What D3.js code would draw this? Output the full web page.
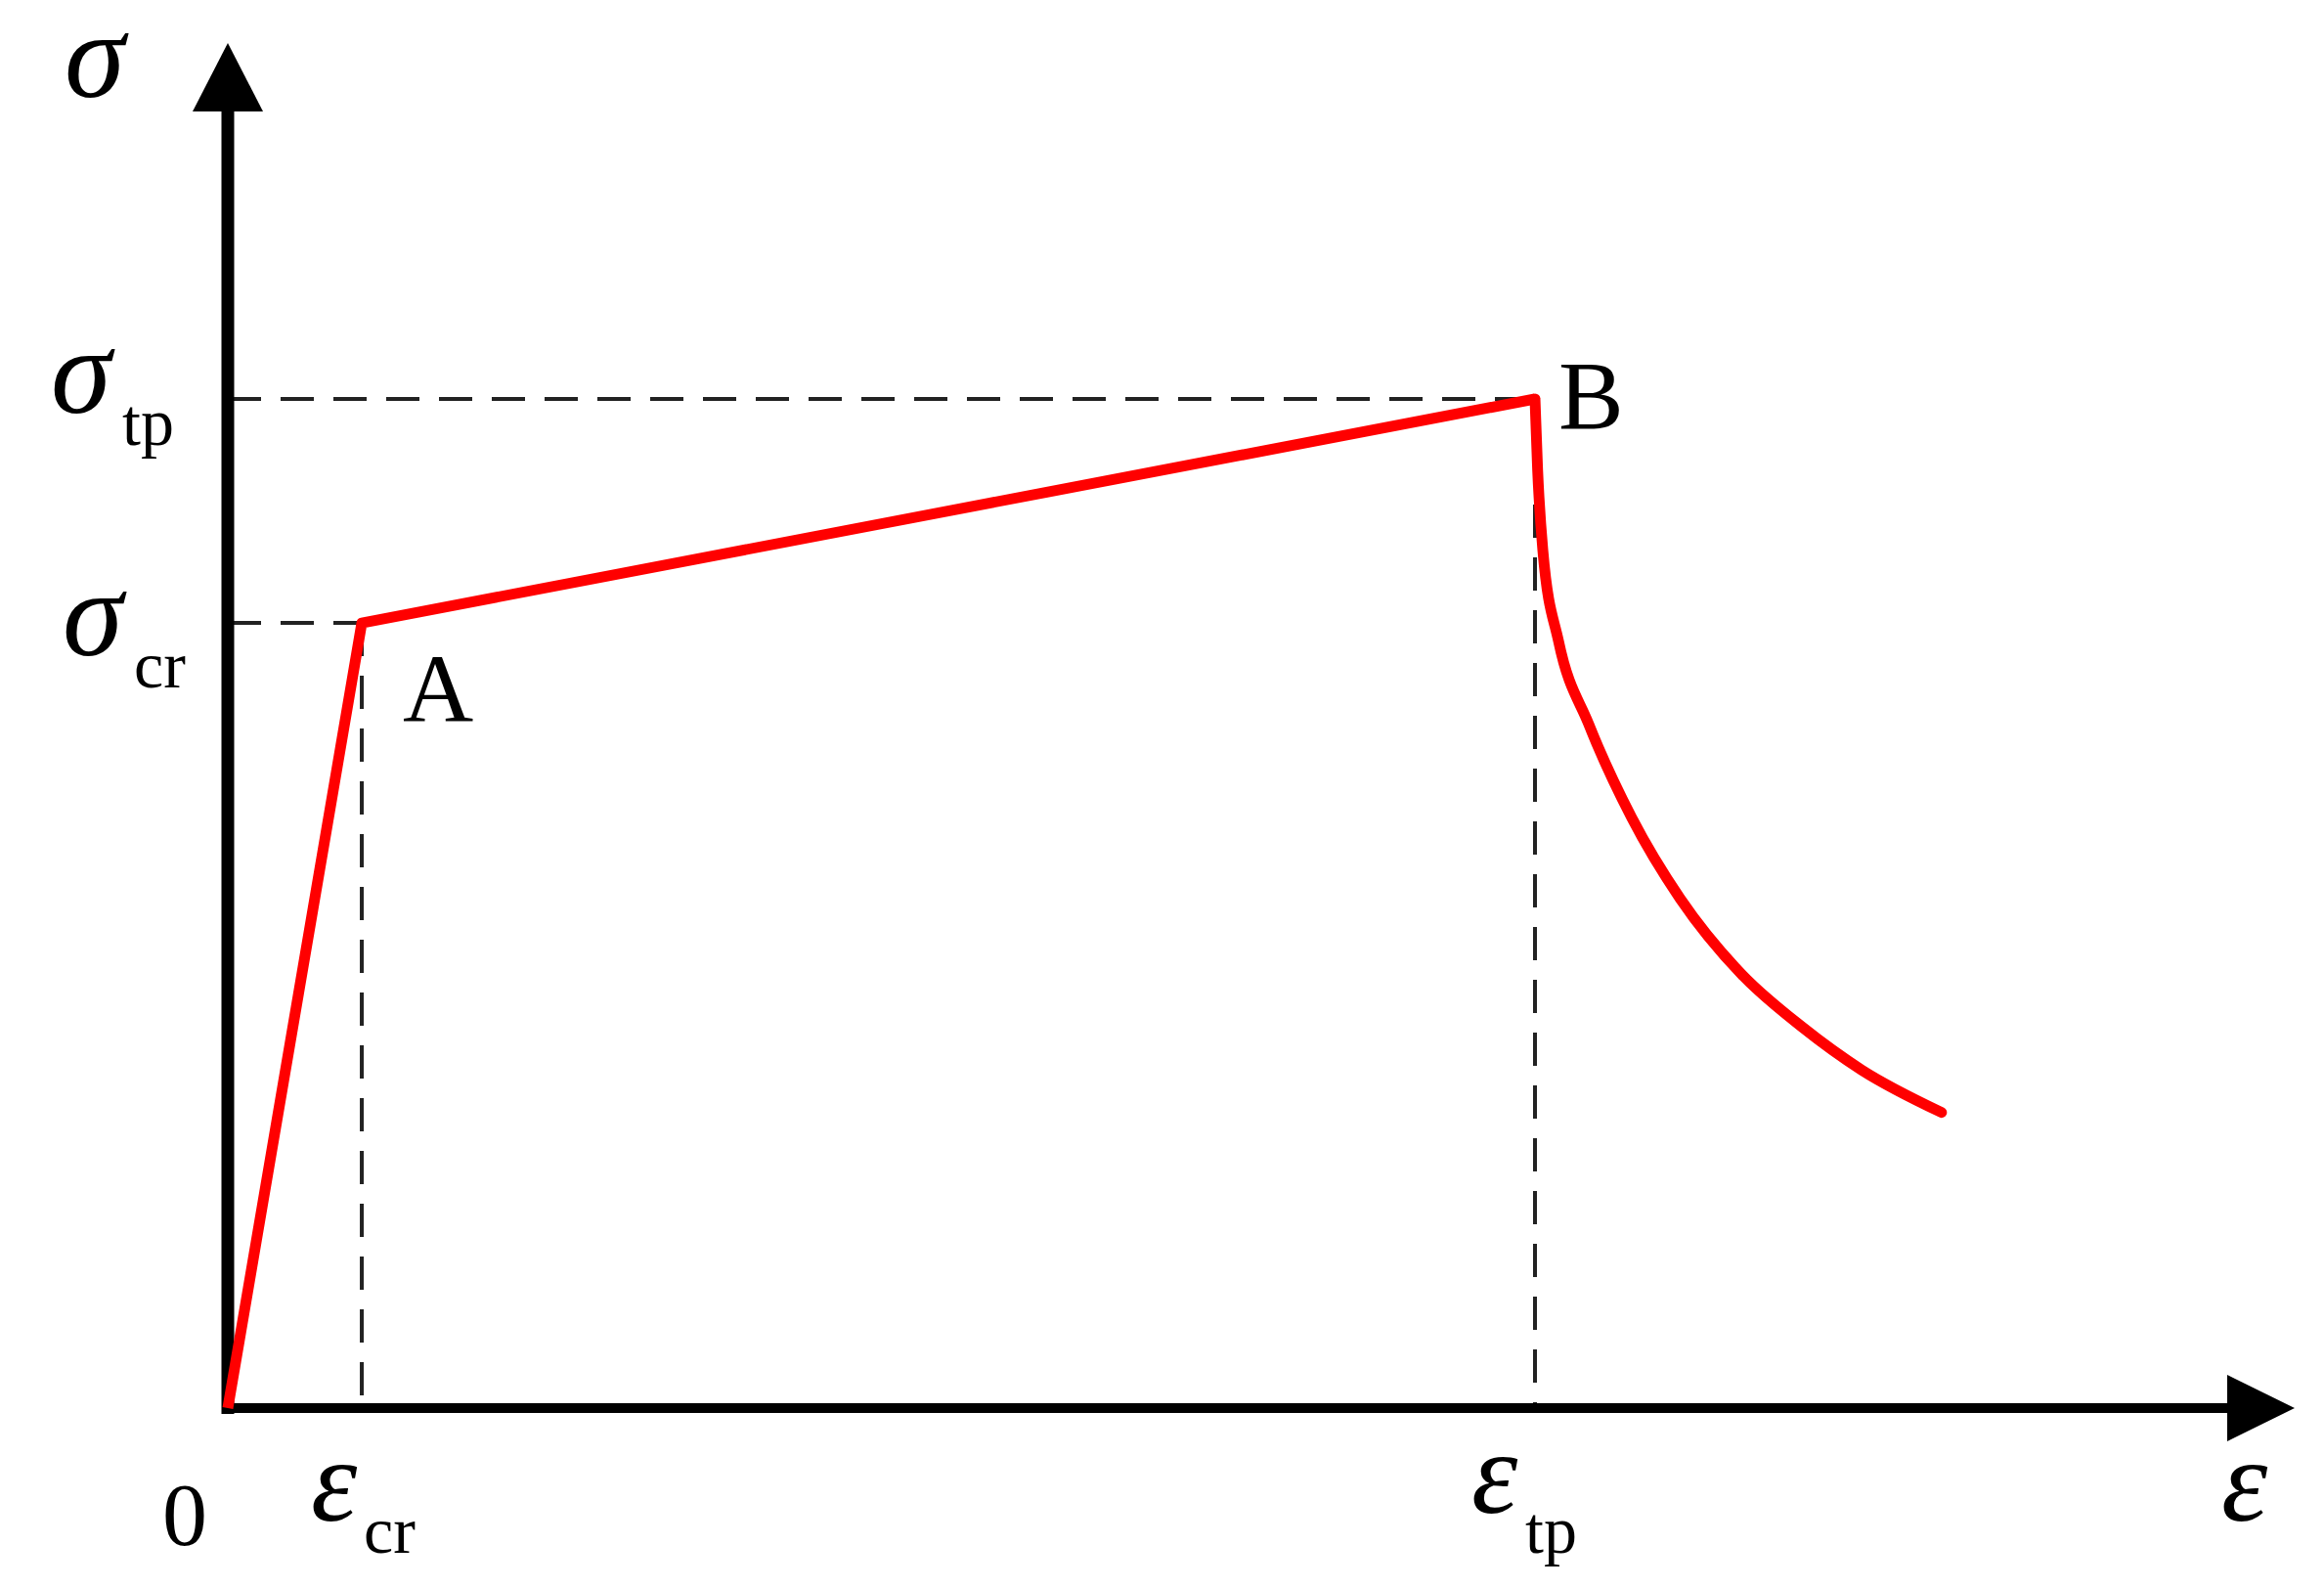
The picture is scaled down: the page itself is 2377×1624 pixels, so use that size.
<!DOCTYPE html>
<html><head><meta charset="utf-8">
<script src="https://cdn.jsdelivr.net/npm/d3@7"></script>
<style>body{margin:0;background:#fff}</style></head>
<body><div id="chart"></div>
<script>
// key points (strain normalised to eps_tp, stress to sigma_tp)
var epsCr = 0.1025, sigCr = 0.778;
var linear = [[0, 0], [epsCr, sigCr], [1.0, 1.0]];
var softening = [[1.0, 1.0], [1.002, 0.93], [1.006, 0.85], [1.018, 0.760], [1.041, 0.678],
  [1.074, 0.585], [1.111, 0.505], [1.158, 0.430], [1.204, 0.378], [1.250, 0.335], [1.311, 0.293]];

var W = 2377, H = 1624;
var x0 = 233, y0 = 1440;
var x = d3.scaleLinear().domain([0, 1]).range([x0, 1570]);
var y = d3.scaleLinear().domain([0, 1]).range([y0, 408]);

var svg = d3.select("#chart").append("svg").attr("width", W).attr("height", H);

// dashed guides
var dash = svg.append("g").attr("stroke", "#222").attr("stroke-width", 4).attr("stroke-dasharray", "34,20");
dash.append("line").attr("x1", x0).attr("x2", x(1)).attr("y1", y(1)).attr("y2", y(1));
dash.append("line").attr("x1", x0).attr("x2", x(epsCr)).attr("y1", y(sigCr)).attr("y2", y(sigCr));
dash.append("line").attr("x1", x(epsCr)).attr("x2", x(epsCr)).attr("y1", y(sigCr)).attr("y2", y0);
dash.append("line").attr("x1", x(1)).attr("x2", x(1)).attr("y1", y(1)).attr("y2", y0);

// axes
svg.append("line").attr("x1", x0).attr("x2", x0).attr("y1", y0 + 6).attr("y2", 110)
  .attr("stroke", "#000").attr("stroke-width", 13);
svg.append("line").attr("x1", x0 - 6).attr("x2", 2280).attr("y1", y0).attr("y2", y0)
  .attr("stroke", "#000").attr("stroke-width", 10);
svg.append("path").attr("d", "M" + x0 + ",44L" + (x0 + 36) + ",114L" + (x0 - 36) + ",114Z");
svg.append("path").attr("d", "M2347," + y0 + "L2278," + (y0 - 34) + "L2278," + (y0 + 34) + "Z");

// curve
var line = d3.line().x(function(d) { return x(d[0]); }).y(function(d) { return y(d[1]); });
svg.append("path").attr("d", line(linear)).attr("fill", "none").attr("stroke", "#ff0000")
  .attr("stroke-width", 11).attr("stroke-linejoin", "round");
svg.append("path").attr("d", d3.line().curve(d3.curveMonotoneX).x(function(d) { return x(d[0]); }).y(function(d) { return y(d[1]); })(softening))
  .attr("fill", "none").attr("stroke", "#ff0000").attr("stroke-width", 11).attr("stroke-linecap", "round");

// labels
var labels = [
  { t: "σ", x: 66, y: 99, s: 125, i: true },
  { t: "σ", x: 52, y: 422, s: 125, i: true },
  { t: "tp", x: 125, y: 455, s: 68, i: false },
  { t: "σ", x: 64, y: 670, s: 125, i: true },
  { t: "cr", x: 137, y: 703, s: 68, i: false },
  { t: "A", x: 412, y: 738, s: 100, i: false },
  { t: "B", x: 1594, y: 438, s: 100, i: false },
  { t: "0", x: 166, y: 1580, s: 92, i: false },
  { t: "ε", x: 318, y: 1555, s: 120, i: true },
  { t: "cr", x: 372, y: 1588, s: 68, i: false },
  { t: "ε", x: 1505, y: 1547, s: 120, i: true },
  { t: "tp", x: 1560, y: 1588, s: 68, i: false },
  { t: "ε", x: 2272, y: 1555, s: 120, i: true }
];
svg.selectAll("text.lbl").data(labels).enter().append("text").attr("class", "lbl")
  .attr("x", function(d) { return d.x; }).attr("y", function(d) { return d.y; })
  .attr("font-family", "Liberation Serif, serif")
  .attr("font-size", function(d) { return d.s; })
  .attr("font-style", function(d) { return d.i ? "italic" : "normal"; })
  .text(function(d) { return d.t; });
</script></body></html>
